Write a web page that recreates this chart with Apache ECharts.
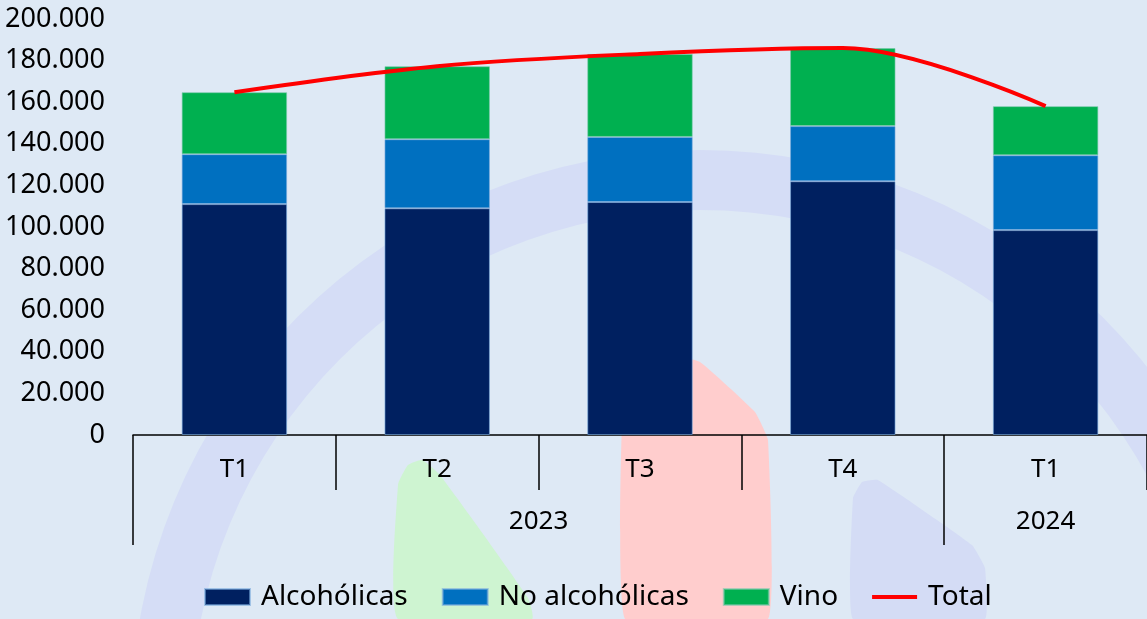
<!DOCTYPE html>
<html>
<head>
<meta charset="utf-8">
<script src="https://cdn.jsdelivr.net/npm/echarts@6/dist/echarts.min.js"></script>
<style>
  html, body { margin: 0; padding: 0; background: #dee9f5; }
  #chart { width: 1147px; height: 619px; }
</style>
</head>
<body>
<div id="chart"></div>
<script>
// trimestres y años
const quarters = ['T1', 'T2', 'T3', 'T4', 'T1'];
const years = ['2023', '2024'];
const yearSpans = [[0, 4], [4, 5]]; // rango de categorías que cubre cada año

// valores
const alcoholicas = [111000, 109000, 112000, 122000, 98500];
const noAlcoholicas = [24000, 33200, 31300, 26500, 36000];
const vino = [29800, 35100, 39900, 37500, 23600];

const total = alcoholicas.map((v, i) => v + noAlcoholicas[i] + vino[i]);

const yearTicks = yearSpans.map(s => s[0]);
const yearCenters = yearSpans.map(s => (s[0] + s[1]) / 2);

const fmtMiles = v => String(v).replace(/\B(?=(\d{3})+(?!\d))/g, '.');

let chart = echarts.init(document.getElementById('chart'));
chart.setOption({
    backgroundColor: '#dee9f5',
    textStyle: { fontFamily: 'Noto Sans' },
    graphic: [
        { type: 'ring', z: -10, shape: { cx: 700, cy: 719, r: 569, r0: 509 }, style: { fill: '#d5ddf6' } },
        { type: 'polygon', z: -10, shape: { smooth: 0.15, points: [[398, 619], [398, 485], [408, 465], [422, 460], [440, 475], [528, 598], [532, 619]] }, style: { fill: '#cef4d1' } },
        { type: 'polygon', z: -10, shape: { smooth: 0.1, points: [[625, 619], [625, 365], [660, 352], [700, 362], [755, 412], [768, 440], [768, 619]] }, style: { fill: '#ffcdcd' } },
        { type: 'polygon', z: -10, shape: { smooth: 0.1, points: [[853, 619], [853, 498], [862, 482], [878, 480], [972, 545], [985, 568], [985, 619]] }, style: { fill: '#d4dcf5' } }
    ],
    grid: { left: 133, right: 0, top: 19, bottom: 184, containLabel: false },
    legend: {
        left: 199,
        top: 578,
        itemWidth: 45,
        itemHeight: 16,
        itemGap: 34,
        textStyle: { fontSize: 28, color: '#000', padding: [0, 0, 0, 6] },
        data: [
            { name: 'Alcohólicas', icon: 'rect' },
            { name: 'No alcohólicas', icon: 'rect' },
            { name: 'Vino', icon: 'rect' },
            { name: 'Total', icon: 'path://M0,0 H45 V4 H0 Z' }
        ]
    },
    xAxis: [
        {
            type: 'category',
            position: 'bottom',
            data: quarters,
            axisLine: { lineStyle: { color: '#000', width: 1.5 } },
            axisTick: { show: true, length: 55, lineStyle: { color: '#000', width: 1.5 } },
            axisLabel: { interval: 0, margin: 22, fontSize: 26, color: '#000' }
        },
        {
            type: 'value',
            position: 'bottom',
            min: 0,
            max: quarters.length,
            interval: 1,
            axisLine: { show: false },
            splitLine: { show: false },
            axisTick: { show: true, length: 110, customValues: yearTicks, lineStyle: { color: '#000', width: 1.5 } },
            axisLabel: {
                margin: 74,
                fontSize: 26,
                color: '#000',
                customValues: yearCenters,
                formatter: v => years[yearCenters.indexOf(v)] || ''
            }
        }
    ],
    yAxis: {
        type: 'value',
        min: 0,
        max: 200000,
        interval: 20000,
        axisLine: { show: false },
        axisTick: { show: false },
        splitLine: { show: false },
        axisLabel: { margin: 28, fontSize: 27, color: '#000', formatter: fmtMiles }
    },
    series: [
        {
            name: 'Alcohólicas', type: 'bar', stack: 'a', barWidth: '52%',
            itemStyle: { color: '#002060', borderColor: 'rgba(120,170,220,0.6)', borderWidth: 1 },
            data: alcoholicas
        },
        {
            name: 'No alcohólicas', type: 'bar', stack: 'a',
            itemStyle: { color: '#0070c0', borderColor: 'rgba(120,170,220,0.6)', borderWidth: 1 },
            data: noAlcoholicas
        },
        {
            name: 'Vino', type: 'bar', stack: 'a',
            itemStyle: { color: '#00b050', borderColor: 'rgba(120,200,170,0.6)', borderWidth: 1 },
            data: vino
        },
        {
            name: 'Total', type: 'line', smooth: 0.35, symbol: 'none',
            itemStyle: { color: '#ff0000' },
            lineStyle: { color: '#ff0000', width: 4 },
            data: total
        }
    ]
});
</script>
</body>
</html>
